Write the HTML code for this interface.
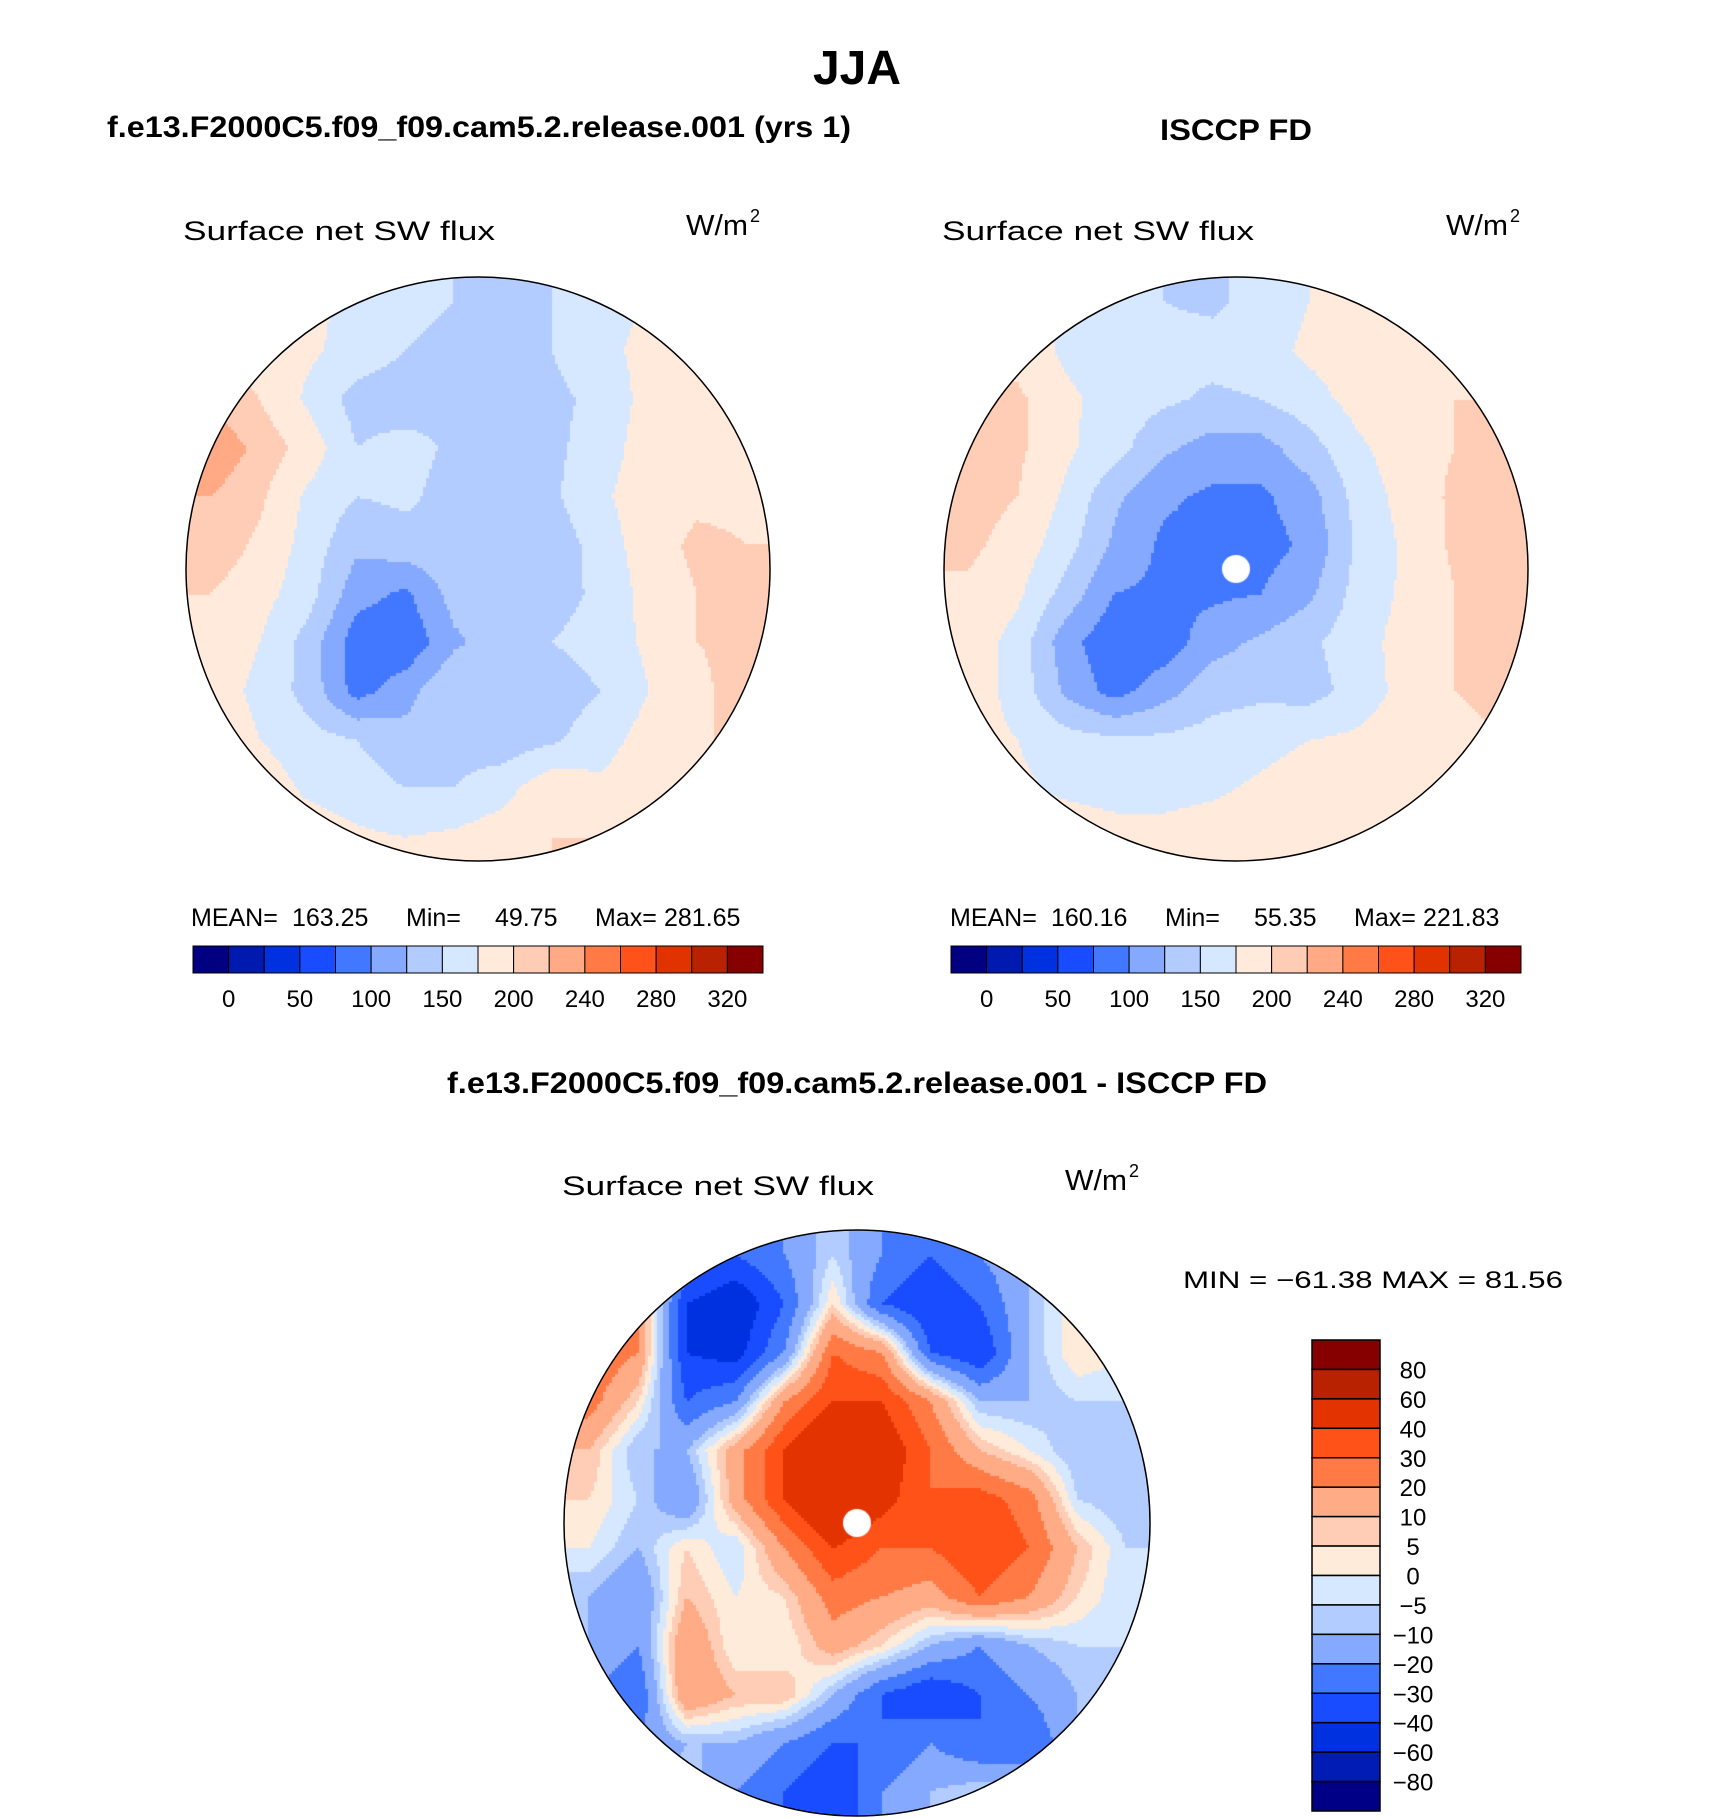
<!DOCTYPE html>
<html><head><meta charset="utf-8"><style>
html,body{margin:0;padding:0;background:#fff;}
#root{position:relative;width:1710px;height:1818px;overflow:hidden;background:#fff;}
canvas{position:absolute;}
svg{position:absolute;left:0;top:0;}
text{font-family:"Liberation Sans",sans-serif;}
</style></head><body>
<div id="root">
<canvas id="m1"></canvas>
<canvas id="m2"></canvas>
<canvas id="m3"></canvas>
<svg id="ov" width="1710" height="1818">
<text x="857" y="84" font-size="48" font-weight="bold" text-anchor="middle">JJA</text>
<text x="107" y="137" font-size="30" font-weight="bold" textLength="744" lengthAdjust="spacingAndGlyphs">f.e13.F2000C5.f09_f09.cam5.2.release.001 (yrs 1)</text>
<text x="1236" y="140" font-size="30" font-weight="bold" text-anchor="middle" textLength="152" lengthAdjust="spacingAndGlyphs">ISCCP FD</text>
<text x="857" y="1093" font-size="30" font-weight="bold" text-anchor="middle" textLength="820" lengthAdjust="spacingAndGlyphs">f.e13.F2000C5.f09_f09.cam5.2.release.001 - ISCCP FD</text>
<g id="static"></g>
</svg>
</div>
<script>
// ---- data ----
const absLevels=[0,25,50,75,100,125,150,175,200,220,240,260,280,300,320];
const absColors=["#000080","#001ab0","#0031e0","#1a4cff","#4277ff","#85a9ff","#b3ccff","#d6e8ff","#ffeadb","#ffcdb5","#ffaa85","#ff7a45","#ff521b","#e03300","#b82200","#870000"];
const absTickLabels=["0","50","100","150","200","240","280","320"];
const diffLevels=[-80,-60,-40,-30,-20,-10,-5,0,5,10,20,30,40,60,80];
const diffColors=["#000087","#001cb5","#0031e0","#1a4cff","#4277ff","#85a9ff","#b3ccff","#d5e8ff","#ffebda","#ffcdb5","#ffab85","#ff7a45","#ff5219","#e33300","#b82200","#870000"];
const diffTickLabels=["-80","-60","-40","-30","-20","-10","-5","0","5","10","20","30","40","60","80"];
const modelGrid=[
[185,185,180,170,160,150,145,150,165,175,185,185],
[190,190,180,165,150,140,140,150,165,185,190,190],
[215,200,170,140,135,145,150,145,155,185,195,195],
[235,215,190,150,160,145,140,145,160,190,195,195],
[220,205,170,150,155,140,140,145,170,190,195,195],
[215,195,165,130,140,145,140,135,160,190,205,200],
[200,185,160,110,95,135,130,140,155,185,200,205],
[190,175,140,85,80,120,140,150,160,180,200,205],
[185,170,140,90,115,150,145,135,150,175,195,210],
[190,175,160,150,135,140,135,145,165,185,200,200],
[195,190,170,160,150,150,165,195,180,190,195,195],
[195,195,190,180,175,180,190,200,200,195,195,195]];
const obsGrid=[
[190,185,170,165,150,145,160,175,190,195,195,195],
[200,190,170,165,160,160,165,180,190,195,195,195],
[210,205,180,165,155,145,150,165,185,195,200,200],
[215,205,180,160,130,115,115,140,170,190,200,200],
[210,200,170,130,105,95,95,115,160,185,205,205],
[205,190,160,120,95,90,90,105,155,180,205,210],
[195,180,140,100,95,95,100,120,160,180,200,210],
[190,165,110,80,85,115,130,145,165,185,200,210],
[190,165,120,90,115,140,145,140,160,185,200,205],
[185,175,160,155,155,160,165,175,180,190,195,200],
[190,180,170,165,165,170,180,190,190,190,195,195],
[195,190,190,185,185,190,190,195,195,195,195,195]];
const diffGrid=[
[5,5,-20,-30,-20,-5,-20,-30,-20,-10,0,0],
[10,20,-40,-50,-30,5,-30,-40,-30,-10,5,0],
[30,20,-40,-45,-20,30,20,-30,-40,-10,5,0],
[25,5,-30,-20,20,40,40,20,-10,-10,-5,-5],
[10,-10,-10,15,40,60,50,30,10,0,-10,-10],
[5,-5,-20,15,40,60,45,30,35,25,-5,-10],
[0,-10,5,-5,20,40,30,30,40,30,10,-5],
[-10,-20,10,0,5,25,20,15,30,20,5,-5],
[-10,-20,20,0,0,15,5,-10,-20,-10,-5,-5],
[-20,-30,20,10,10,-10,-30,-40,-30,-20,-10,-10],
[-20,-20,-10,-10,-20,-30,-30,-20,-30,-30,-10,-10],
[-10,-10,-5,-20,-30,-40,-20,-10,-5,-5,-5,-5]];
const modelStats=["MEAN=","163.25","Min=","49.75","Max=","281.65"];
const obsStats=["MEAN=","160.16","Min=","55.35","Max=","221.83"];
const diffStats="MIN = \u221261.38 MAX =  81.56";

// ---- rendering ----
const NS="http://www.w3.org/2000/svg";
const g=document.getElementById('static');
function el(tag,attrs,txt){const e=document.createElementNS(NS,tag);for(const k in attrs)e.setAttribute(k,attrs[k]);if(txt!==undefined)e.textContent=txt;g.appendChild(e);return e;}
function colorFor(v,levels,colors){let i=0;while(i<levels.length&&v>=levels[i])i++;return colors[i];}
function sample(grid,fx,fy){const n=grid.length,m=grid[0].length;
 let x=fx*m-0.5,y=fy*n-0.5;x=Math.max(0,Math.min(m-1,x));y=Math.max(0,Math.min(n-1,y));
 const x0=Math.floor(x),y0=Math.floor(y),x1=Math.min(m-1,x0+1),y1=Math.min(n-1,y0+1),tx=x-x0,ty=y-y0;
 return (grid[y0][x0]*(1-tx)+grid[y0][x1]*tx)*(1-ty)+(grid[y1][x0]*(1-tx)+grid[y1][x1]*tx)*ty;}
function drawMap(id,grid,cx,cy,r,levels,colors,pole){
 const c=document.getElementById(id);c.width=2*r;c.height=2*r;c.style.left=(cx-r)+'px';c.style.top=(cy-r)+'px';
 const ctx=c.getContext('2d');ctx.beginPath();ctx.arc(r,r,r,0,2*Math.PI);ctx.clip();
 const s=3;
 for(let y=0;y<2*r;y+=s)for(let x=0;x<2*r;x+=s){ctx.fillStyle=colorFor(sample(grid,(x+1)/(2*r),(y+1)/(2*r)),levels,colors);ctx.fillRect(x,y,s,s);}
 if(pole){ctx.fillStyle='#fff';ctx.beginPath();ctx.arc(r,r,14,0,2*Math.PI);ctx.fill();}
 const circ=el('circle',{cx:cx,cy:cy,r:r,fill:'none',stroke:'#000','stroke-width':1.5});
 
}
drawMap('m1',modelGrid,478,569,292,absLevels,absColors,false);
drawMap('m2',obsGrid,1236,569,292,absLevels,absColors,true);
drawMap('m3',diffGrid,857,1523,293,diffLevels,diffColors,true);

function subtitle(x,y,ux,uy,name){
 const t=el('text',{x:x,y:y,'font-size':27,textLength:312,lengthAdjust:'spacingAndGlyphs'},'Surface net SW flux');
 
 const u=el('text',{x:ux,y:uy,'font-size':29,textLength:62,lengthAdjust:'spacingAndGlyphs'},'W/m');
 const sp=el('text',{x:ux+64,y:uy-13,'font-size':18},'2');
}
subtitle(183,240,686,235,'model');subtitle(942,240,1446,235,'obs');subtitle(562,1195,1065,1190,'diff');

function stats(x,arr,name){
 const xs=[0,101,215,304,404,473];
 arr.forEach((s,i)=>{const t=el('text',{x:x+xs[i],y:926,'font-size':25},s);
  });
}
stats(191,modelStats,'model');stats(950,obsStats,'obs');

function hbar(x0,name){
 const w=570/absColors.length;
 absColors.forEach((c,i)=>{const r=el('rect',{x:x0+i*w,y:946,width:w,height:27,fill:c,stroke:'#000','stroke-width':1});
  });
 absTickLabels.forEach((l,i)=>{const t=el('text',{x:x0+(2*i+1)*w,y:1007,'font-size':24,'text-anchor':'middle'},l);
  });
}
hbar(193,'model');hbar(951,'obs');

const mm=el('text',{x:1183,y:1288,'font-size':24,textLength:380,lengthAdjust:'spacingAndGlyphs'},diffStats);

const bh=471/diffColors.length;
diffColors.slice().reverse().forEach((c,i)=>{const r=el('rect',{x:1312,y:1340+i*bh,width:68,height:bh,fill:c,stroke:'#000','stroke-width':1.5});
 });
diffTickLabels.slice().reverse().forEach((l,i)=>{const t=el('text',{x:1413,y:1340+(i+1)*bh+9,'font-size':24,'text-anchor':'middle'},l.replace('-','\u2212'));
 });
</script>
</body></html>
